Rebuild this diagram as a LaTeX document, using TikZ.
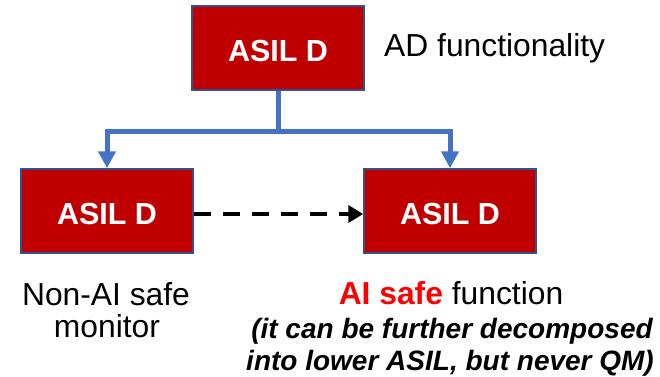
\documentclass[tikz,border=0pt]{standalone}
\usepackage{fontspec}
\setmainfont{Liberation Sans}
\usetikzlibrary{arrows.meta}

\definecolor{boxred}{HTML}{C00000}
\definecolor{boxedge}{HTML}{2F528F}
\definecolor{linkblue}{HTML}{4472C4}
\definecolor{hotred}{HTML}{FF0000}

\tikzset{
  asilbox/.style={draw=boxedge, line width=1.5pt, fill=boxred,
    minimum width=172pt, minimum height=84pt, inner sep=0pt,
    text=white, font=\fontsize{30.5}{32}\selectfont\bfseries,
    text height=26pt, text depth=0pt},
  plain/.style={inner sep=0pt, anchor=base, font=\fontsize{31.8}{33}\selectfont},
  note/.style={inner sep=0pt, anchor=base, font=\fontsize{28}{30}\selectfont\bfseries\itshape},
  tree/.style={draw=linkblue, line width=5pt, line join=miter},
  treearrow/.style={tree, -{Triangle[length=17pt, width=17pt]}},
  monitorlink/.style={draw=black, line width=4.5pt, dash pattern=on 17pt off 12pt,
    -{Triangle[length=15pt, width=17pt]}}
}

\begin{document}
\begin{tikzpicture}[x=1pt, y=-1pt]
  \useasboundingbox (0,0) rectangle (660,376);

  % decomposition boxes
  \node[asilbox] (top)   at (278,48)  {ASIL D};
  \node[asilbox] (mon)   at (107,211) {ASIL D};
  \node[asilbox] (func)  at (450,211) {ASIL D};

  % tree connector from the parent to both children
  \coordinate (split) at (278,131);
  \draw[tree] (top.south) -- (split);
  \draw[treearrow] (split) -| (mon.north);
  \draw[treearrow] (split) -| (func.north);

  % monitor feeding the function
  \draw[monitorlink] ([yshift=-3pt]mon.east) -- ([yshift=-3pt]func.west);

  % labels
  \node[plain, anchor=base west] (adlabel) at (384,56) {AD functionality};
  \node[plain] (monA) at (106,305) {Non-AI safe};
  \node[plain] (monB) at (107,337) {monitor};
  \node[plain] (funA) at (451,304) {\textcolor{hotred}{\bfseries AI safe} function};
  \node[note]  (funB) at (452,338) {(it can be further decomposed};
  \node[note]  (funC) at (450,370) {into lower ASIL, but never QM)};
\end{tikzpicture}
\end{document}
